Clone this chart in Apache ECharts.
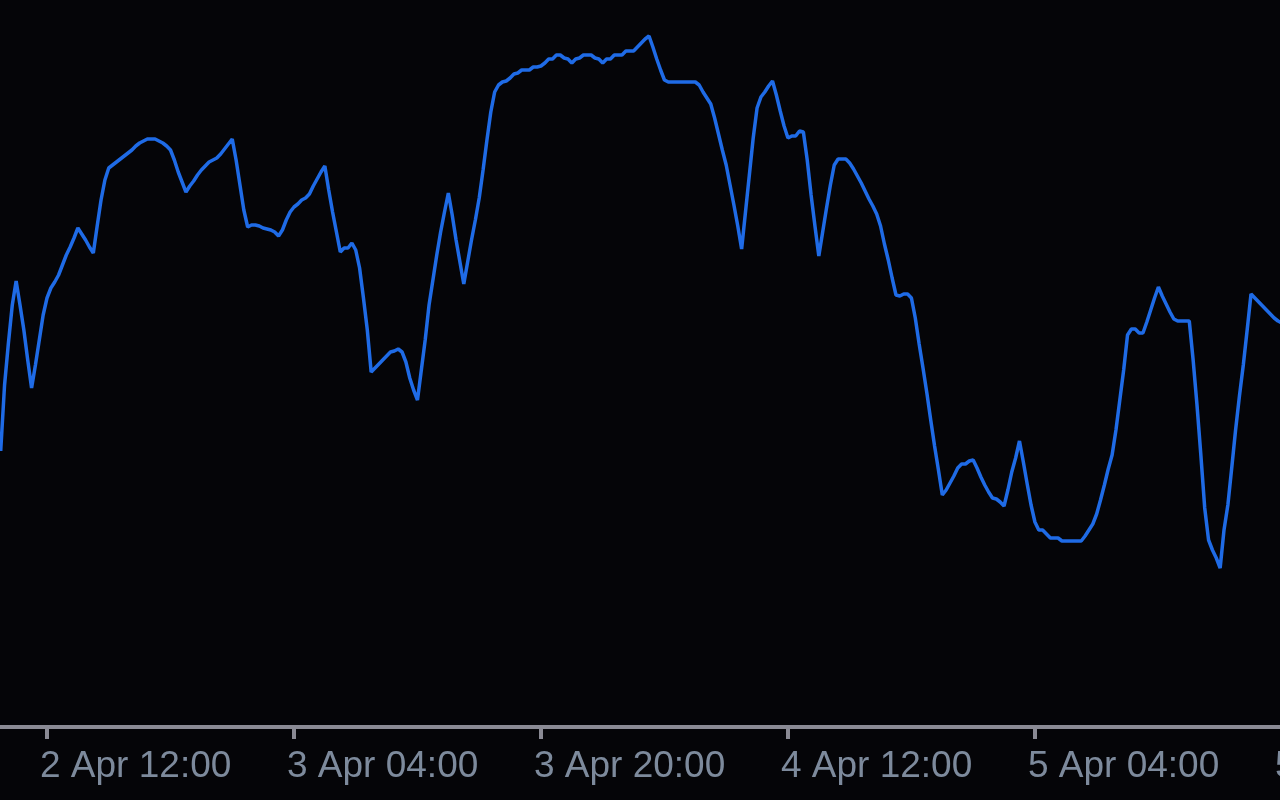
<!DOCTYPE html>
<html>
<head>
<meta charset="utf-8">
<script src="https://cdn.jsdelivr.net/npm/echarts@6/dist/echarts.min.js"></script>
<style>
  html, body { margin: 0; padding: 0; background: #050508; }
  #chart { width: 1280px; height: 800px; }
</style>
</head>
<body>
<div id="chart"></div>
<script>
// 15-minute bars, first bar at 2 Apr 09:00
const startTime = { day: 2, hour: 9, minute: 0 };
const barMinutes = 15;
const monthName = 'Apr';

// Tick labels shown on the time axis
const tickLabels = ['2 Apr 12:00', '3 Apr 04:00', '3 Apr 20:00', '4 Apr 12:00', '5 Apr 04:00', '5 Apr 20:00'];

// Close values per 15-minute bar
const prices = [
  349,415,457,495,519,495,470,440,412,435,460,485,
  502,512,518,525,535,545,553,562,572,566,560,553,
  547,574,600,620,632,635,638,641,644,647,650,654,
  657,659,661,661,661,659,657,654,650,640,628,618,
  608,614,619,625,630,634,638,640,642,646,651,656,
  661,640,615,590,573,575,575,574,572,571,570,568,
  564,570,580,588,593,596,600,602,606,614,621,628,
  634,610,588,568,548,552,552,557,550,532,502,470,
  428,432,436,440,444,448,449,451,448,438,422,410,
  400,430,460,495,520,545,568,588,607,585,560,538,
  516,538,560,580,602,630,660,688,708,715,718,719,
  722,726,727,730,730,730,733,733,734,737,741,741,
  745,745,742,741,737,741,742,745,745,745,742,741,
  737,741,741,745,745,745,749,749,749,753,757,761,
  764,753,741,730,720,718,718,718,718,718,718,718,
  718,715,708,702,696,682,666,650,635,615,595,574,
  551,588,625,662,692,703,708,714,719,705,689,674,
  662,664,664,669,668,640,605,574,544,568,592,615,
  635,641,641,641,637,631,624,617,609,601,594,586,
  574,556,540,522,505,504,506,506,502,482,456,432,
  407,380,354,330,305,310,317,324,332,336,336,339,
  340,332,323,315,308,302,301,298,294,310,328,342,
  359,338,316,295,278,270,270,266,262,262,262,259,
  259,259,259,259,259,264,270,276,286,300,315,331,
  345,370,400,430,465,471,471,467,467,478,490,502,
  513,504,496,488,481,479,479,479,479,440,395,345,
  292,260,250,242,232,270,295,332,370,404,435,470,
  506,502,498,494,490,486,482,479,477
];

// Category labels: one per bar
const categories = [];
(function () {
  let total = startTime.hour * 60 + startTime.minute;
  let day = startTime.day;
  for (let i = 0; i < prices.length; i++) {
    const h = Math.floor(total / 60), m = total % 60;
    categories.push(day + ' ' + monthName + ' ' + String(h).padStart(2, '0') + ':' + String(m).padStart(2, '0'));
    total += barMinutes;
    if (total >= 24 * 60) { total -= 24 * 60; day += 1; }
  }
})();

const isTick = (idx) => tickLabels.indexOf(categories[idx]) !== -1;

const chart = echarts.init(document.getElementById('chart'), null, { renderer: 'canvas' });
const barPx = 3.859;
chart.setOption({
  backgroundColor: '#050508',
  animation: false,
  grid: {
    left: 0.7, top: 0, width: (prices.length - 1) * barPx, height: 727,
    containLabel: false, outerBoundsMode: 'none'
  },
  xAxis: {
    type: 'category',
    data: categories,
    boundaryGap: false,
    axisLine: { show: true, lineStyle: { color: '#8a8a94', width: 4 } },
    axisTick: { show: true, length: 12, interval: (idx) => isTick(idx), lineStyle: { color: '#8a8a94', width: 4 } },
    axisLabel: {
      show: true,
      interval: (idx) => isTick(idx),
      hideOverlap: false,
      align: 'left',
      margin: 21,
      padding: [0, 0, 0, -7],
      color: '#7d8a9c',
      fontFamily: 'Liberation Sans, Arial, sans-serif',
      fontSize: 37
    },
    splitLine: { show: false }
  },
  yAxis: {
    type: 'value',
    min: 73,
    max: 800,
    show: false,
    splitLine: { show: false }
  },
  series: [{
    type: 'line',
    name: 'Price',
    data: prices,
    symbol: 'none',
    smooth: false,
    lineStyle: { color: '#1f6be6', width: 3.5 },
    clip: false
  }]
});
</script>
</body>
</html>
